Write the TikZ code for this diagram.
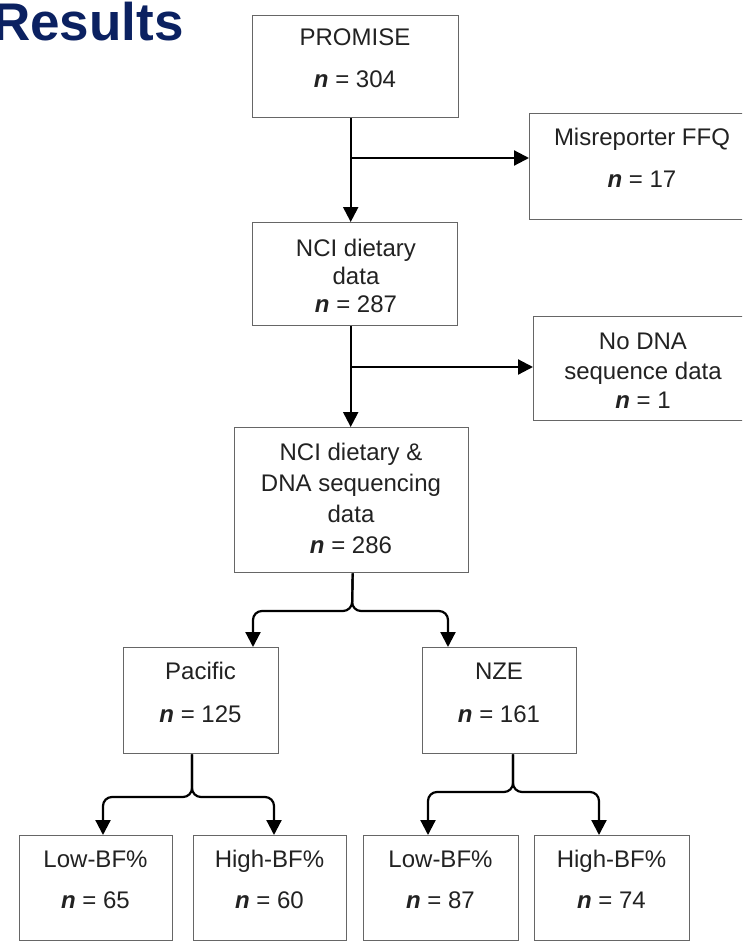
\documentclass[tikz,border=0pt]{standalone}
\usepackage{fontspec}
\setmainfont{Liberation Sans}
\usetikzlibrary{arrows.meta}
\definecolor{navy}{HTML}{0B2161}
\definecolor{boxline}{HTML}{666666}
\definecolor{txtcol}{HTML}{222222}
\newcommand{\nn}{\textbf{\textit{n}}}
\begin{document}
\begin{tikzpicture}[x=1pt,y=-1pt,
  box/.style={draw=boxline, line width=1.4pt, fill=white},
  txt/.style={anchor=base, inner sep=0pt, text=txtcol, font=\fontsize{24}{28}\selectfont},
  arr/.style={draw=black, line width=2.2pt, -{Triangle[length=15pt,width=15pt]}},
  title/.style={anchor=base west, inner sep=0pt, text=navy, font=\fontsize{53}{60}\selectfont\bfseries}
]
\clip (0,0) rectangle (742,942);
\fill[white] (0,0) rectangle (742,942);

\node[title] (ttl) at (-8,41) {Results};

% boxes
\node[box, minimum width=206pt, minimum height=102pt, anchor=north west] (promise) at (252,15) {};
\node[box, minimum width=226pt, minimum height=106pt, anchor=north west] (misrep) at (529,113) {};
\node[box, minimum width=205pt, minimum height=103pt, anchor=north west] (nci) at (252,222) {};
\node[box, minimum width=220pt, minimum height=104pt, anchor=north west] (nodna) at (533,316) {};
\node[box, minimum width=234pt, minimum height=145pt, anchor=north west] (both) at (234,427) {};
\node[box, minimum width=155pt, minimum height=106pt, anchor=north west] (pac) at (123,647) {};
\node[box, minimum width=154pt, minimum height=106pt, anchor=north west] (nze) at (422,647) {};
\node[box, minimum width=153pt, minimum height=105pt, anchor=north west] (b1) at (19,835) {};
\node[box, minimum width=153pt, minimum height=105pt, anchor=north west] (b2) at (193,835) {};
\node[box, minimum width=155pt, minimum height=105pt, anchor=north west] (b3) at (363,835) {};
\node[box, minimum width=155pt, minimum height=105pt, anchor=north west] (b4) at (534,835) {};

% texts
\node[txt] (t1a) at (355,46) {PROMISE};
\node[txt] (t1b) at (355,87) {\nn{} = 304};
\node[txt] (t2a) at (642,145) {Misreporter FFQ};
\node[txt] (t2b) at (642,187) {\nn{} = 17};
\node[txt] (t3a) at (356,256) {NCI dietary};
\node[txt] (t3b) at (356,284) {data};
\node[txt] (t3c) at (356,312) {\nn{} = 287};
\node[txt] (t4a) at (643,349) {No DNA};
\node[txt] (t4b) at (643,379) {sequence data};
\node[txt] (t4c) at (643,408) {\nn{} = 1};
\node[txt] (t5a) at (351,460) {NCI dietary \&};
\node[txt] (t5b) at (351,491) {DNA sequencing};
\node[txt] (t5c) at (351,522) {data};
\node[txt] (t5d) at (351,553) {\nn{} = 286};
\node[txt] (t6a) at (200.5,679) {Pacific};
\node[txt] (t6b) at (200.5,722) {\nn{} = 125};
\node[txt] (t7a) at (499,679) {NZE};
\node[txt] (t7b) at (499,722) {\nn{} = 161};
\node[txt] (t8a) at (95.5,867) {Low-BF\%};
\node[txt] (t8b) at (95.5,908) {\nn{} = 65};
\node[txt] (t9a) at (269.5,867) {High-BF\%};
\node[txt] (t9b) at (269.5,908) {\nn{} = 60};
\node[txt] (t10a) at (440.5,867) {Low-BF\%};
\node[txt] (t10b) at (440.5,908) {\nn{} = 87};
\node[txt] (t11a) at (611.5,867) {High-BF\%};
\node[txt] (t11b) at (611.5,908) {\nn{} = 74};

% main flow
\draw[arr] ([xshift=-5pt]promise.south) -- ([xshift=-5pt]promise.south |- nci.north);
\coordinate (j1) at (350,158);
\draw[arr] (j1) -- (j1 -| misrep.west);
\draw[arr] ([xshift=-4.5pt]nci.south) -- ([xshift=-4.5pt]nci.south |- both.north);
\coordinate (j2) at (350,367);
\draw[arr] (j2) -- (j2 -| nodna.west);

% splits
\coordinate (s1) at ([xshift=1pt]both.south);
\draw[arr, rounded corners=9pt] (s1) -- (352,611) -- (253,611) -- (253,611 |- pac.north);
\draw[arr, rounded corners=9pt] (s1) -- (352,611) -- (448,611) -- (448,611 |- nze.north);

\coordinate (s2) at (192,0 |- pac.south);
\draw[arr, rounded corners=9pt] (s2) -- (192,797) -- (103,797) -- (103,797 |- b1.north);
\draw[arr, rounded corners=9pt] (s2) -- (192,797) -- (274,797) -- (274,797 |- b2.north);

\coordinate (s3) at (513,0 |- nze.south);
\draw[arr, rounded corners=9pt] (s3) -- (513,792) -- (428,792) -- (428,792 |- b3.north);
\draw[arr, rounded corners=9pt] (s3) -- (513,792) -- (599,792) -- (599,792 |- b4.north);
\end{tikzpicture}
\end{document}
